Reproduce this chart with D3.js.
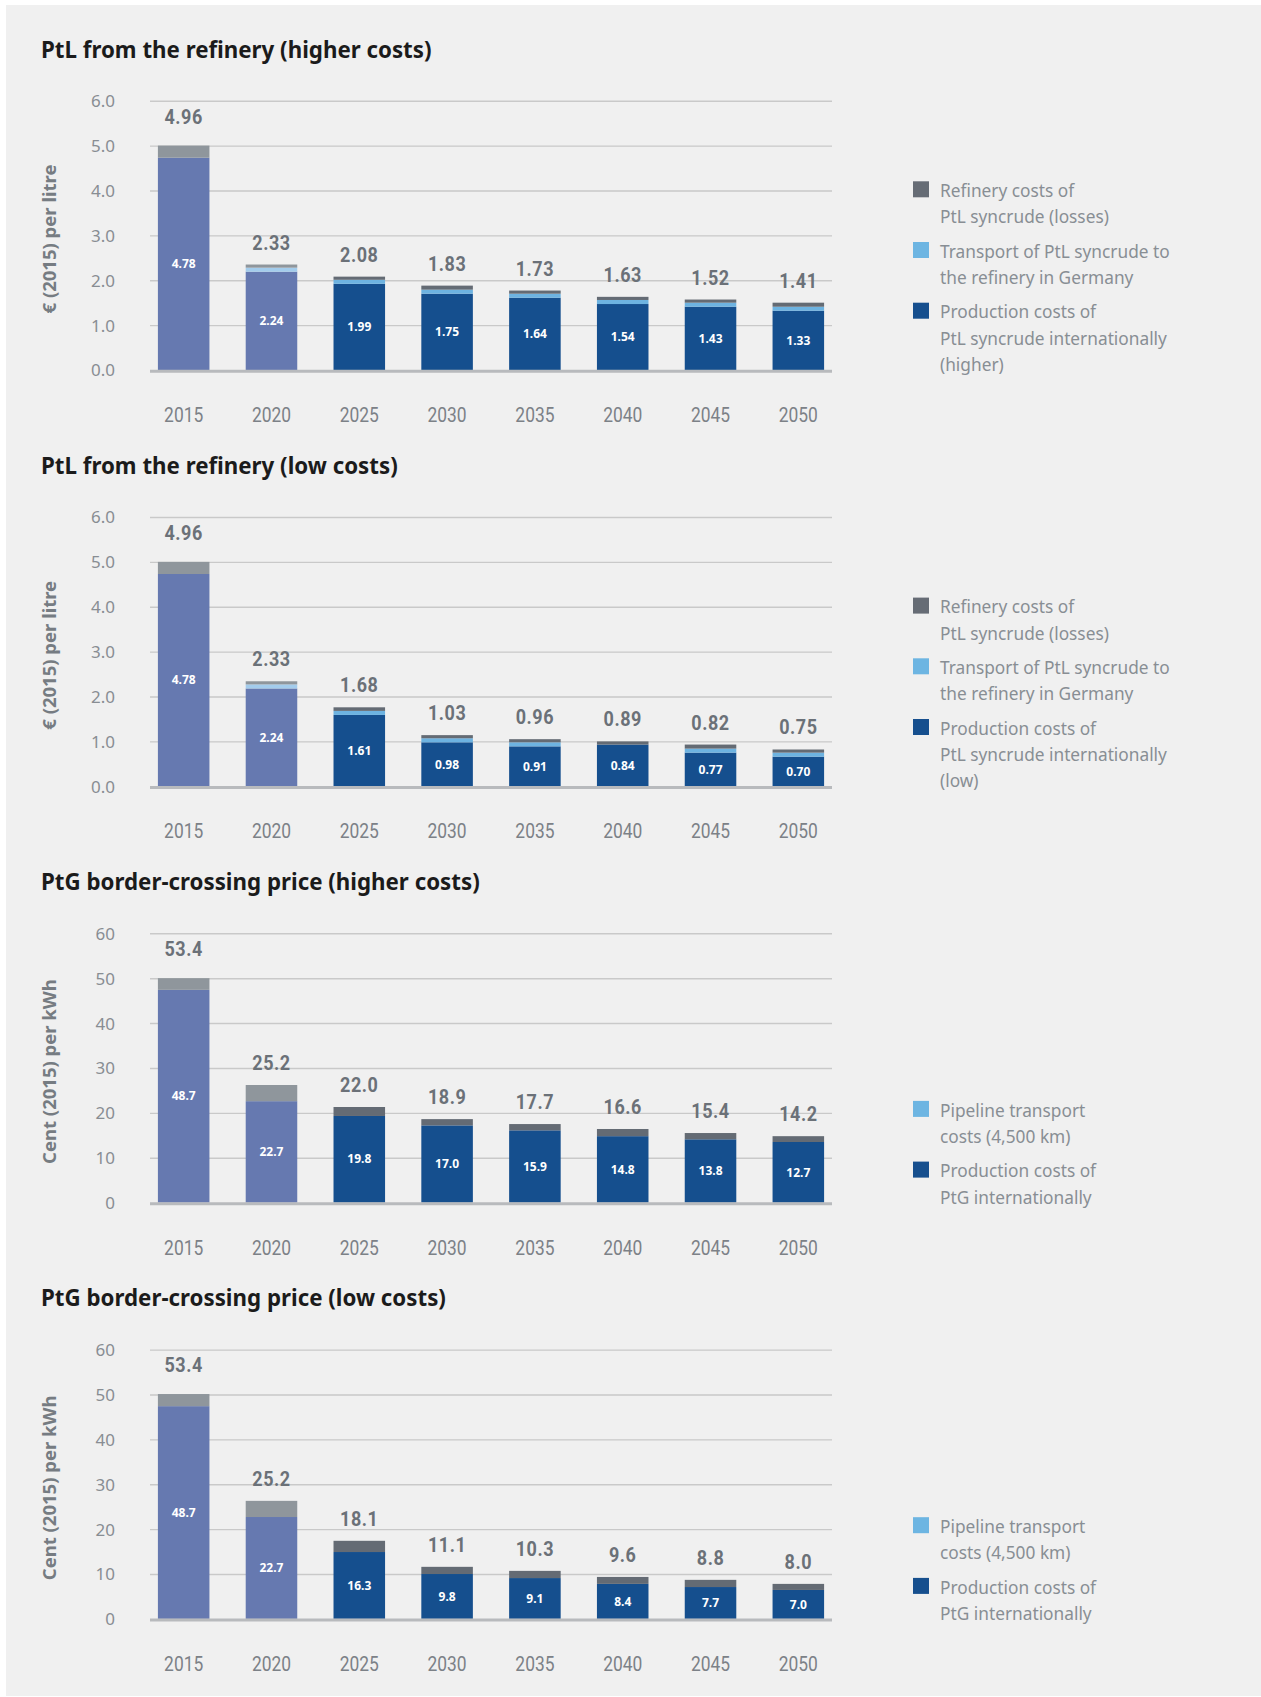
<!DOCTYPE html>
<html><head><meta charset="utf-8">
<script src="https://cdn.jsdelivr.net/npm/d3@7"></script>
<style>html,body{margin:0;padding:0;background:#fff;} svg{display:block}</style>
</head><body>
<svg id="c" width="1261" height="1697"></svg>
<script>
const years = ["2015","2020","2025","2030","2035","2040","2045","2050"];
const ptlTicks = [0,1,2,3,4,5,6];
const ptgTicks = [0,10,20,30,40,50,60];

// PtL from the refinery (higher costs)
const ptlHighTotal = [4.96,2.33,2.08,1.83,1.73,1.63,1.52,1.41];
const ptlHighProdLabel = [4.78,2.24,1.99,1.75,1.64,1.54,1.43,1.33];
const ptlHighProd = [4.73,2.19,1.92,1.70,1.61,1.47,1.41,1.32];
const ptlHighTransport = [0,0.09,0.09,0.09,0.09,0.09,0.09,0.09];
const ptlHighRefinery = [0.27,0.07,0.07,0.09,0.07,0.07,0.07,0.09];

// PtL from the refinery (low costs)
const ptlLowTotal = [4.96,2.33,1.68,1.03,0.96,0.89,0.82,0.75];
const ptlLowProdLabel = [4.78,2.24,1.61,0.98,0.91,0.84,0.77,0.70];
const ptlLowProd = [4.73,2.18,1.59,0.98,0.89,0.93,0.75,0.66];
const ptlLowTransport = [0,0.09,0.09,0.09,0.09,0,0.09,0.09];
const ptlLowRefinery = [0.27,0.07,0.08,0.07,0.07,0.07,0.09,0.07];

// PtG border-crossing price (higher costs)
const ptgHighTotal = [53.4,25.2,22.0,18.9,17.7,16.6,15.4,14.2];
const ptgHighProdLabel = [48.7,22.7,19.8,17.0,15.9,14.8,13.8,12.7];
const ptgHighProd = [47.4,22.6,19.3,17.2,16.1,14.8,14.1,13.5];
const ptgHighTop = [2.6,3.6,2.0,1.4,1.4,1.6,1.4,1.3];

// PtG border-crossing price (low costs)
const ptgLowTotal = [53.4,25.2,18.1,11.1,10.3,9.6,8.8,8.0];
const ptgLowProdLabel = [48.7,22.7,16.3,9.8,9.1,8.4,7.7,7.0];
const ptgLowProd = [47.4,22.7,14.9,10.0,9.1,7.8,7.1,6.45];
const ptgLowTop = [2.7,3.6,2.5,1.6,1.6,1.55,1.6,1.35];

const ptlLegendHigh = [
  {key:"refinery", lines:["Refinery costs of","PtL syncrude (losses)"]},
  {key:"transport", lines:["Transport of PtL syncrude to","the refinery in Germany"]},
  {key:"prod", lines:["Production costs of","PtL syncrude internationally","(higher)"]}
];
const ptlLegendLow = [
  {key:"refinery", lines:["Refinery costs of","PtL syncrude (losses)"]},
  {key:"transport", lines:["Transport of PtL syncrude to","the refinery in Germany"]},
  {key:"prod", lines:["Production costs of","PtL syncrude internationally","(low)"]}
];
const ptgLegend = [
  {key:"transport", lines:["Pipeline transport","costs (4,500 km)"]},
  {key:"prod", lines:["Production costs of","PtG internationally"]}
];

const panels = [
  {title:"PtL from the refinery (higher costs)", yTitle:"€ (2015) per litre", ticks:ptlTicks, tfmt:".1f", vfmt:".2f",
   total:ptlHighTotal, prodLabel:ptlHighProdLabel, keys:["prod","transport","refinery"], series:[ptlHighProd,ptlHighTransport,ptlHighRefinery], legend:ptlLegendHigh},
  {title:"PtL from the refinery (low costs)", yTitle:"€ (2015) per litre", ticks:ptlTicks, tfmt:".1f", vfmt:".2f",
   total:ptlLowTotal, prodLabel:ptlLowProdLabel, keys:["prod","transport","refinery"], series:[ptlLowProd,ptlLowTransport,ptlLowRefinery], legend:ptlLegendLow},
  {title:"PtG border-crossing price (higher costs)", yTitle:"Cent (2015) per kWh", ticks:ptgTicks, tfmt:"d", vfmt:".1f",
   total:ptgHighTotal, prodLabel:ptgHighProdLabel, keys:["prod","top"], series:[ptgHighProd,ptgHighTop], legend:ptgLegend},
  {title:"PtG border-crossing price (low costs)", yTitle:"Cent (2015) per kWh", ticks:ptgTicks, tfmt:"d", vfmt:".1f",
   total:ptgLowTotal, prodLabel:ptgLowProdLabel, keys:["prod","top"], series:[ptgLowProd,ptgLowTop], legend:ptgLegend}
];

const earlyColors = {prod:"#6679b0", transport:"#a3ccec", refinery:"#8f969c", top:"#8f969c"};
const lateColors  = {prod:"#154f8e", transport:"#6db3e1", refinery:"#646b74", top:"#646b74"};
const legendColors = {prod:"#164f8e", transport:"#6db5e2", refinery:"#666c75"};

const svg = d3.select("#c");
svg.append("rect").attr("x",6).attr("y",5).attr("width",1255).attr("height",1691).attr("fill","#f0f0f0");

const x = d3.scaleBand().domain(years).range([150,832]).paddingInner(0.413).paddingOuter(0.09);
const PANEL_STEP = 416.3;

panels.forEach((p,pi) => {
  const off = pi*PANEL_STEP;
  const zeroY = 370 + off, topY = 100.7 + off;
  const maxV = p.ticks[p.ticks.length-1];
  const y = d3.scaleLinear().domain([0,maxV]).range([zeroY, topY]);
  const g = svg.append("g");

  // title
  g.append("text").attr("x",41).attr("y",57.5+off)
    .attr("font-family","'Noto Sans', sans-serif").attr("font-weight","bold").attr("font-size",22.3)
    .attr("fill","#1b1b1b").text(p.title);

  // gridlines + ticks
  const axis = d3.axisLeft(y).tickValues(p.ticks).tickFormat(d3.format(p.tfmt)).tickSize(-(832-150)).tickPadding(35);
  const ag = g.append("g").attr("transform",`translate(150,0)`).call(axis);
  ag.select(".domain").remove();
  ag.selectAll(".tick line").attr("stroke","#c9c9c9").attr("stroke-width",1.4)
    .filter(d => d===0).remove();
  ag.selectAll(".tick text").attr("font-family","'Noto Sans', sans-serif").attr("font-size",17)
    .attr("fill","#888d93").attr("dy","0.35em");

  // y title
  g.append("text").attr("transform",`translate(55.5,${zeroY-131}) rotate(-90)`)
    .attr("text-anchor","middle").attr("font-family","'Noto Sans', sans-serif").attr("font-weight","bold")
    .attr("font-size",18.5).attr("fill","#767c82").text(p.yTitle);

  // bars
  const rows = years.map((yr,i) => {
    const r = {year:yr, i:i};
    p.keys.forEach((k,ki) => r[k] = p.series[ki][i]);
    return r;
  });
  const stacked = d3.stack().keys(p.keys)(rows);
  stacked.forEach(layer => {
    g.append("g").selectAll("rect").data(layer).join("rect")
      .attr("x", d => x(d.data.year)).attr("width", x.bandwidth())
      .attr("y", d => y(d[1])).attr("height", d => Math.max(0, y(d[0]) - y(d[1])))
      .attr("fill", d => (d.data.i < 2 ? earlyColors : lateColors)[layer.key]);
  });

  // baseline
  g.append("line").attr("x1",150).attr("x2",832).attr("y1",zeroY+1.2).attr("y2",zeroY+1.2)
    .attr("stroke","#b8babd").attr("stroke-width",3);

  const top = stacked[stacked.length-1];
  const vf = d3.format(p.vfmt);
  // totals
  g.append("g").selectAll("text").data(top).join("text")
    .attr("transform", (d,i) => `translate(${x(d.data.year) + x.bandwidth()/2},${y(d[1]) - (i===0 ? 22 : 15)}) scale(0.9,1)`)
    .attr("text-anchor","middle").attr("font-family","Roboto, sans-serif").attr("font-weight","bold")
    .attr("font-size",20).attr("letter-spacing",0.6).attr("fill","#6b7178")
    .text((d,i) => vf(p.total[i]));
  // inner production labels
  g.append("g").selectAll("text").data(stacked[0]).join("text")
    .attr("x", d => x(d.data.year) + x.bandwidth()/2)
    .attr("y", d => (y(d[0]) + y(d[1]))/2)
    .attr("dy","0.35em").attr("text-anchor","middle").attr("font-family","'Noto Sans', sans-serif")
    .attr("font-weight","bold").attr("font-size",12).attr("fill","#ffffff")
    .text((d,i) => vf(p.prodLabel[i]));

  // year labels
  g.append("g").selectAll("text").data(years).join("text")
    .attr("transform", d => `translate(${x(d) + x.bandwidth()/2},${zeroY + 52}) scale(0.87,1)`)
    .attr("text-anchor","middle").attr("font-family","Roboto, sans-serif")
    .attr("font-size",20).attr("fill","#7c8187").text(d => d);

  // legend, bottom-aligned to baseline
  const LH = 26.3, GAP = 8.1;
  const totalH = d3.sum(p.legend, it => it.lines.length*LH + GAP) - GAP;
  let cy = zeroY + 1 - 15.7 - (totalH - LH);
  p.legend.forEach(it => {
    const lg = g.append("g");
    lg.append("rect").attr("x",913).attr("y",cy).attr("width",16).attr("height",16).attr("fill",legendColors[it.key]);
    lg.append("text").attr("font-family","'Noto Sans', sans-serif").attr("font-size",17.3).attr("fill","#888e94")
      .selectAll("tspan").data(it.lines).join("tspan")
      .attr("x",940).attr("y",(d,li) => cy + 15.7 + li*LH).text(d => d);
    cy += it.lines.length*LH + GAP;
  });
});
</script>
</body></html>
